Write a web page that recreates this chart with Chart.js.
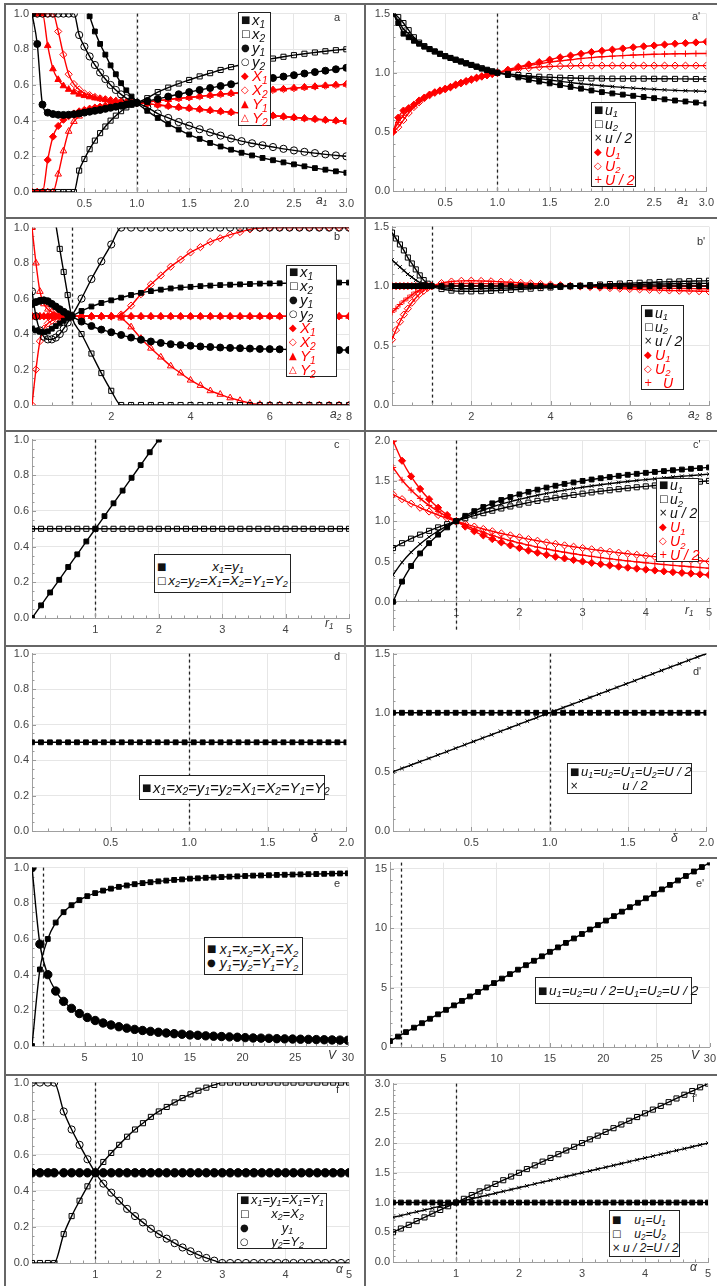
<!DOCTYPE html>
<html lang="en">
<head>
<meta charset="UTF-8">
<title>Panels a - f'</title>
<script src="https://cdn.jsdelivr.net/npm/chart.js@4.4.0/dist/chart.umd.min.js"></script>
<style>
  body { margin: 0; background: #fff; }
  #page { position: relative; width: 717px; height: 1286px; overflow: hidden; font-family: 'Liberation Sans', Arial, sans-serif; }
  canvas { position: absolute; z-index: 1; }
  .hl { position: absolute; left: 4px; right: 0; height: 2px; background: #666; }
  .vl { position: absolute; top: 3px; bottom: 0; width: 2px; background: #666; }
  .tag { position: absolute; z-index: 3; font-size: 11px; color: #333; }
  .ax { position: absolute; z-index: 3; font-size: 12px; font-style: italic; color: #333; }
  .lg { position: absolute; z-index: 4; box-sizing: border-box; border: 1.5px solid #222; background: #fff; padding: 0 2px;
        display: flex; flex-direction: column; justify-content: center; font-style: italic; color: #111; }
  .lg div { display: flex; align-items: center; white-space: nowrap; line-height: 14px; height: 14px; }
  .lg .s { font-style: normal; font-family: 'DejaVu Sans', sans-serif; font-size: 10px; width: 11px; flex: none; }
  .lg .t { flex: none; }
  .lg .c { flex: 1; text-align: center; }
  .lg .red { color: #f00; }
  sub { font-size: 68%; position: relative; top: 0.28em; vertical-align: baseline; line-height: 0; }
</style>
</head>
<body>
<div id="page">
  <!-- table frame -->
  <div class="hl" style="top:3px"></div>
  <div class="hl" style="top:217px"></div>
  <div class="hl" style="top:430px"></div>
  <div class="hl" style="top:645px"></div>
  <div class="hl" style="top:857px"></div>
  <div class="hl" style="top:1074px"></div>
  <div class="vl" style="left:4px"></div>
  <div class="vl" style="left:364px"></div>

  <!-- panel tags -->
  <div class="tag" style="left:334px;top:11px">a</div>
  <div class="tag" style="left:692px;top:10px">a'</div>
  <div class="tag" style="left:334px;top:230px">b</div>
  <div class="tag" style="left:697px;top:235px">b'</div>
  <div class="tag" style="left:334px;top:438px">c</div>
  <div class="tag" style="left:693px;top:438px">c'</div>
  <div class="tag" style="left:334px;top:650px">d</div>
  <div class="tag" style="left:693px;top:665px">d'</div>
  <div class="tag" style="left:334px;top:877px">e</div>
  <div class="tag" style="left:696px;top:877px">e'</div>
  <div class="tag" style="left:336px;top:1083px">f</div>
  <div class="tag" style="left:692px;top:1092px">f'</div>

  <!-- axis names -->
  <div class="ax" style="left:316px;top:193px">a<sub>1</sub></div>
  <div class="ax" style="left:677px;top:193px">a<sub>1</sub></div>
  <div class="ax" style="left:330px;top:407px">a<sub>2</sub></div>
  <div class="ax" style="left:688px;top:407px">a<sub>2</sub></div>
  <div class="ax" style="left:325px;top:616px">r<sub>1</sub></div>
  <div class="ax" style="left:685px;top:603px">r<sub>1</sub></div>
  <div class="ax" style="left:311px;top:831px">δ</div>
  <div class="ax" style="left:671px;top:831px">δ</div>
  <div class="ax" style="left:328px;top:1048px">V</div>
  <div class="ax" style="left:691px;top:1048px">V</div>
  <div class="ax" style="left:336px;top:1262px">α</div>
  <div class="ax" style="left:690px;top:1260px">α</div>

  <!-- legends -->
  <div class="lg" style="left:238px;top:12px;width:33px;height:114px;font-size:15px">
    <div><span class="s">■</span><span class="t">x<sub>1</sub></span></div>
    <div><span class="s">□</span><span class="t">x<sub>2</sub></span></div>
    <div><span class="s">●</span><span class="t">y<sub>1</sub></span></div>
    <div><span class="s">○</span><span class="t">y<sub>2</sub></span></div>
    <div class="red"><span class="s">◆</span><span class="t">X<sub>1</sub></span></div>
    <div class="red"><span class="s">◇</span><span class="t">X<sub>2</sub></span></div>
    <div class="red"><span class="s">▲</span><span class="t">Y<sub>1</sub></span></div>
    <div class="red"><span class="s">△</span><span class="t">Y<sub>2</sub></span></div>
  </div>
  <div class="lg" style="left:591px;top:102px;width:45px;height:85px;font-size:14px">
    <div><span class="s">■</span><span class="t">u<sub>1</sub></span></div>
    <div><span class="s">□</span><span class="t">u<sub>2</sub></span></div>
    <div><span class="s">×</span><span class="t">u / 2</span></div>
    <div class="red"><span class="s">◆</span><span class="t">U<sub>1</sub></span></div>
    <div class="red"><span class="s">◇</span><span class="t">U<sub>2</sub></span></div>
    <div class="red"><span class="s">+</span><span class="t">U / 2</span></div>
  </div>
  <div class="lg" style="left:286px;top:265px;width:51px;height:112px;font-size:15px">
    <div><span class="s">■</span><span class="t">x<sub>1</sub></span></div>
    <div><span class="s">□</span><span class="t">x<sub>2</sub></span></div>
    <div><span class="s">●</span><span class="t">y<sub>1</sub></span></div>
    <div><span class="s">○</span><span class="t">y<sub>2</sub></span></div>
    <div class="red"><span class="s">◆</span><span class="t">X<sub>1</sub></span></div>
    <div class="red"><span class="s">◇</span><span class="t">X<sub>2</sub></span></div>
    <div class="red"><span class="s">▲</span><span class="t">Y<sub>1</sub></span></div>
    <div class="red"><span class="s">△</span><span class="t">Y<sub>2</sub></span></div>
  </div>
  <div class="lg" style="left:641px;top:305px;width:43px;height:85px;font-size:14px">
    <div><span class="s">■</span><span class="t">u<sub>1</sub></span></div>
    <div><span class="s">□</span><span class="t">u<sub>2</sub></span></div>
    <div><span class="s">×</span><span class="t">u / 2</span></div>
    <div class="red"><span class="s">◆</span><span class="t">U<sub>1</sub></span></div>
    <div class="red"><span class="s">◇</span><span class="t">U<sub>2</sub></span></div>
    <div class="red"><span class="s">+</span><span class="c">U</span></div>
  </div>
  <div class="lg" style="left:154px;top:554px;width:137px;height:39px;font-size:13.5px">
    <div><span class="s">■</span><span class="c">x<sub>1</sub>=y<sub>1</sub></span></div>
    <div><span class="s">□</span><span class="c">x<sub>2</sub>=y<sub>2</sub>=X<sub>1</sub>=X<sub>2</sub>=Y<sub>1</sub>=Y<sub>2</sub></span></div>
  </div>
  <div class="lg" style="left:656px;top:478px;width:43px;height:84px;font-size:14px">
    <div><span class="s">■</span><span class="t">u<sub>1</sub></span></div>
    <div><span class="s">□</span><span class="t">u<sub>2</sub></span></div>
    <div><span class="s">×</span><span class="t">u / 2</span></div>
    <div class="red"><span class="s">◆</span><span class="t">U<sub>1</sub></span></div>
    <div class="red"><span class="s">◇</span><span class="t">U<sub>2</sub></span></div>
    <div class="red"><span class="s">+</span><span class="t">U / 2</span></div>
  </div>
  <div class="lg" style="left:139px;top:775px;width:186px;height:25px;font-size:15px">
    <div><span class="s">■</span><span class="c">x<sub>1</sub>=x<sub>2</sub>=y<sub>1</sub>=y<sub>2</sub>=X<sub>1</sub>=X<sub>2</sub>=Y<sub>1</sub>=Y<sub>2</sub></span></div>
  </div>
  <div class="lg" style="left:567px;top:763px;width:125px;height:31px;font-size:13px">
    <div><span class="s">■</span><span class="c">u<sub>1</sub>=u<sub>2</sub>=U<sub>1</sub>=U<sub>2</sub>=U / 2</span></div>
    <div><span class="s">×</span><span class="c">u / 2</span></div>
  </div>
  <div class="lg" style="left:204px;top:937px;width:99px;height:38px;font-size:14px">
    <div><span class="s">■</span><span class="c">x<sub>1</sub>=x<sub>2</sub>=X<sub>1</sub>=X<sub>2</sub></span></div>
    <div><span class="s">●</span><span class="c">y<sub>1</sub>=y<sub>2</sub>=Y<sub>1</sub>=Y<sub>2</sub></span></div>
  </div>
  <div class="lg" style="left:535px;top:977px;width:157px;height:27px;font-size:13.5px">
    <div><span class="s">■</span><span class="c">u<sub>1</sub>=u<sub>2</sub>=u / 2=U<sub>1</sub>=U<sub>2</sub>=U / 2</span></div>
  </div>
  <div class="lg" style="left:237px;top:1193px;width:90px;height:56px;font-size:13px">
    <div><span class="s">■</span><span class="c">x<sub>1</sub>=y<sub>1</sub>=X<sub>1</sub>=Y<sub>1</sub></span></div>
    <div><span class="s">□</span><span class="c">x<sub>2</sub>=X<sub>2</sub></span></div>
    <div><span class="s">●</span><span class="c">y<sub>1</sub></span></div>
    <div><span class="s">○</span><span class="c">y<sub>2</sub>=Y<sub>2</sub></span></div>
  </div>
  <div class="lg" style="left:609px;top:1210px;width:71px;height:47px;font-size:12px">
    <div><span class="s">■</span><span class="c">u<sub>1</sub>=U<sub>1</sub></span></div>
    <div><span class="s">□</span><span class="c">u<sub>2</sub>=U<sub>2</sub></span></div>
    <div><span class="s">×</span><span class="c">u / 2=U / 2</span></div>
  </div>
</div>

<script>
// ---- panel a / a' (a1) ----
const A_X  = [0,0.05,0.1,0.15,0.2,0.25,0.3,0.35,0.4,0.45,0.5,0.55,0.6,0.65,0.7,0.75,0.8,0.85,0.9,0.95,1,1.1,1.2,1.3,1.4,1.5,1.6,1.7,1.8,1.9,2,2.1,2.2,2.3,2.4,2.5,2.6,2.7,2.8,2.9,3];
const A_x1 = [null,null,null,null,null,null,null,null,null,1.15,1.07,0.985,0.9,0.83,0.77,0.71,0.66,0.61,0.57,0.535,0.5,0.455,0.415,0.38,0.35,0.322,0.298,0.275,0.255,0.237,0.22,0.205,0.191,0.178,0.166,0.155,0.144,0.134,0.125,0.116,0.108];
const A_x2 = [0,0,0,0,0,0,0,0,0,0.12,0.185,0.24,0.288,0.33,0.367,0.4,0.428,0.453,0.474,0.489,0.5,0.526,0.56,0.585,0.608,0.628,0.648,0.666,0.684,0.7,0.715,0.727,0.738,0.748,0.758,0.767,0.775,0.782,0.789,0.795,0.8];
const A_y1 = [1,0.83,0.49,0.445,0.437,0.433,0.432,0.433,0.436,0.44,0.445,0.45,0.455,0.46,0.466,0.472,0.478,0.484,0.49,0.495,0.5,0.51,0.522,0.535,0.548,0.56,0.572,0.583,0.594,0.604,0.613,0.622,0.631,0.639,0.647,0.655,0.664,0.672,0.68,0.688,0.696];
const A_y2 = [1,1,1,1,1,1,1,1,1,0.88,0.815,0.76,0.712,0.67,0.633,0.6,0.572,0.547,0.526,0.511,0.5,0.474,0.44,0.415,0.392,0.372,0.352,0.334,0.316,0.3,0.285,0.273,0.262,0.252,0.242,0.233,0.225,0.218,0.211,0.205,0.2];
const A_X1 = [0,0,0,0.18,0.31,0.37,0.405,0.425,0.44,0.452,0.46,0.467,0.473,0.478,0.483,0.487,0.49,0.493,0.496,0.498,0.5,0.495,0.488,0.482,0.475,0.47,0.464,0.458,0.452,0.447,0.443,0.438,0.433,0.428,0.423,0.418,0.413,0.409,0.404,0.4,0.396];
const A_X2 = [1,1,1,1,1,0.9,0.77,0.66,0.605,0.575,0.553,0.543,0.533,0.525,0.52,0.515,0.511,0.508,0.505,0.502,0.5,0.505,0.512,0.518,0.525,0.53,0.536,0.542,0.548,0.553,0.557,0.562,0.567,0.572,0.577,0.582,0.587,0.591,0.596,0.6,0.604];
const A_Y1 = [1,1,1,0.82,0.69,0.63,0.595,0.575,0.56,0.548,0.54,0.533,0.527,0.522,0.517,0.513,0.51,0.507,0.504,0.502,0.5,0.505,0.512,0.518,0.525,0.53,0.536,0.542,0.548,0.553,0.557,0.562,0.567,0.572,0.577,0.582,0.587,0.591,0.596,0.6,0.604];
const A_Y2 = [0,0,0,0,0,0.1,0.23,0.34,0.395,0.425,0.447,0.457,0.467,0.475,0.48,0.485,0.489,0.492,0.495,0.498,0.5,0.495,0.488,0.482,0.475,0.47,0.464,0.458,0.452,0.447,0.443,0.438,0.433,0.428,0.423,0.418,0.413,0.409,0.404,0.4,0.396];
const AP_u1 = [1.5,1.42,1.33,1.3,1.27,1.245,1.22,1.2,1.18,1.16,1.14,1.125,1.11,1.095,1.08,1.065,1.05,1.035,1.022,1.01,1,0.98,0.96,0.94,0.925,0.91,0.895,0.88,0.865,0.85,0.836,0.825,0.815,0.805,0.795,0.785,0.775,0.765,0.757,0.748,0.74];
const AP_u2 = [1.5,1.47,1.42,1.36,1.3,1.255,1.225,1.2,1.18,1.16,1.14,1.125,1.11,1.095,1.08,1.066,1.052,1.038,1.025,1.012,1,0.99,0.98,0.972,0.966,0.962,0.958,0.955,0.953,0.952,0.951,0.95,0.95,0.95,0.95,0.949,0.949,0.948,0.948,0.947,0.947];
const AP_uh = [1.5,1.44,1.37,1.33,1.29,1.25,1.222,1.2,1.18,1.16,1.14,1.125,1.11,1.095,1.08,1.065,1.051,1.037,1.023,1.011,1,0.988,0.975,0.962,0.95,0.938,0.927,0.917,0.907,0.898,0.89,0.883,0.876,0.87,0.864,0.86,0.855,0.851,0.848,0.845,0.842];
const AP_U1 = [0.5,0.62,0.68,0.7,0.73,0.765,0.79,0.815,0.835,0.85,0.865,0.88,0.9,0.915,0.93,0.945,0.958,0.97,0.98,0.99,1,1.025,1.05,1.07,1.09,1.11,1.13,1.145,1.16,1.175,1.185,1.195,1.205,1.215,1.223,1.23,1.238,1.245,1.25,1.256,1.262];
const AP_U2 = [0.5,0.54,0.6,0.66,0.71,0.75,0.785,0.81,0.83,0.846,0.86,0.876,0.895,0.91,0.925,0.94,0.954,0.967,0.978,0.99,1,1.015,1.03,1.04,1.048,1.053,1.056,1.058,1.06,1.06,1.06,1.06,1.06,1.06,1.06,1.06,1.06,1.06,1.06,1.06,1.06];
const AP_Uh = [0.5,0.58,0.64,0.68,0.72,0.758,0.788,0.812,0.832,0.848,0.862,0.878,0.897,0.912,0.927,0.942,0.956,0.968,0.979,0.99,1,1.02,1.04,1.06,1.075,1.09,1.1,1.11,1.12,1.128,1.135,1.14,1.145,1.15,1.153,1.156,1.158,1.16,1.161,1.162,1.163];

// ---- panel b / b' (a2) ----
const B_X  = [0,0.1,0.2,0.3,0.4,0.5,0.6,0.7,0.8,0.9,1,1.25,1.5,1.75,2,2.25,2.5,2.75,3,3.25,3.5,3.75,4,4.25,4.5,4.75,5,5.25,5.5,5.75,6,6.25,6.5,6.75,7,7.25,7.5,7.75,8];
const B_x1 = [0.43,0.42,0.413,0.41,0.415,0.43,0.445,0.46,0.475,0.488,0.5,0.53,0.555,0.575,0.59,0.605,0.62,0.632,0.642,0.65,0.657,0.662,0.666,0.67,0.673,0.676,0.678,0.68,0.682,0.684,0.685,0.686,0.687,0.688,0.688,0.689,0.689,0.69,0.69];
const B_y1 = [0.57,0.58,0.587,0.59,0.585,0.57,0.555,0.54,0.525,0.512,0.5,0.47,0.445,0.425,0.41,0.395,0.38,0.368,0.358,0.35,0.343,0.338,0.334,0.33,0.327,0.324,0.322,0.32,0.318,0.316,0.315,0.314,0.313,0.312,0.312,0.311,0.311,0.31,0.31];
const B_x2 = [null,null,null,null,null,null,1.02,0.88,0.75,0.62,0.5,0.4,0.29,0.18,0.08,0,0,0,0,0,0,0,0,0,0,0,0,0,0,0,0,0,0,0,0,0,0,0,0];
const B_y2 = [0.64,0.5,0.42,0.385,0.37,0.37,0.38,0.4,0.43,0.465,0.5,0.6,0.71,0.81,0.905,1,1,1,1,1,1,1,1,1,1,1,1,1,1,1,1,1,1,1,1,1,1,1,1];
const B_X2 = [0,0.2,0.36,0.43,0.46,0.475,0.485,0.492,0.496,0.499,0.5,0.5,0.5,0.5,0.5,0.51,0.56,0.625,0.68,0.73,0.78,0.82,0.86,0.89,0.92,0.94,0.96,0.975,0.99,0.997,1,1,1,1,1,1,1,1,1];
const B_Y2 = [1,0.8,0.64,0.57,0.54,0.525,0.515,0.508,0.504,0.501,0.5,0.5,0.5,0.5,0.5,0.49,0.44,0.375,0.32,0.27,0.22,0.18,0.14,0.11,0.08,0.06,0.04,0.025,0.01,0.003,0,0,0,0,0,0,0,0,0];
const HALF39 = [0.5,0.5,0.5,0.5,0.5,0.5,0.5,0.5,0.5,0.5,0.5,0.5,0.5,0.5,0.5,0.5,0.5,0.5,0.5,0.5,0.5,0.5,0.5,0.5,0.5,0.5,0.5,0.5,0.5,0.5,0.5,0.5,0.5,0.5,0.5,0.5,0.5,0.5,0.5];
const ONE39 = [1,1,1,1,1,1,1,1,1,1,1,1,1,1,1,1,1,1,1,1,1,1,1,1,1,1,1,1,1,1,1,1,1,1,1,1,1,1,1];
const BP_u2 = [1.45,1.4,1.35,1.3,1.24,1.19,1.14,1.09,1.05,1.02,1,0.975,0.962,0.956,0.955,0.957,0.96,0.964,0.968,0.973,0.978,0.983,0.988,0.993,0.998,1.003,1.008,1.013,1.017,1.021,1.025,1.028,1.031,1.034,1.037,1.039,1.041,1.043,1.045];
const BP_uh = [1.22,1.19,1.16,1.13,1.1,1.075,1.05,1.03,1.015,1.005,1,0.988,0.981,0.978,0.978,0.979,0.98,0.982,0.984,0.987,0.989,0.992,0.994,0.997,0.999,1.002,1.004,1.007,1.009,1.011,1.013,1.014,1.016,1.017,1.019,1.02,1.021,1.022,1.023];
const BP_U2 = [0.55,0.63,0.7,0.76,0.81,0.86,0.9,0.935,0.96,0.985,1,1.025,1.038,1.044,1.045,1.043,1.04,1.036,1.032,1.027,1.022,1.017,1.012,1.007,1.002,0.997,0.992,0.987,0.983,0.979,0.975,0.972,0.969,0.966,0.963,0.961,0.959,0.957,0.955];
const BP_U  = [0.78,0.81,0.845,0.875,0.9,0.925,0.95,0.965,0.98,0.99,1,1.012,1.019,1.022,1.022,1.021,1.02,1.018,1.016,1.013,1.011,1.008,1.006,1.003,1.001,0.998,0.996,0.993,0.991,0.989,0.987,0.986,0.984,0.983,0.981,0.98,0.979,0.978,0.977];

// ---- panel c / c' (r1) ----
const C_X = [0,0.143,0.286,0.429,0.571,0.714,0.857,1,1.143,1.286,1.429,1.571,1.714,1.857,2,2.143,2.286,2.429,2.571,2.714,2.857,3,3.143,3.286,3.429,3.571,3.714,3.857,4,4.143,4.286,4.429,4.571,4.714,4.857,5];
const C_x1y1 = [0,0.071,0.143,0.214,0.286,0.357,0.429,0.5,0.571,0.643,0.714,0.786,0.857,0.929,1,null,null,null,null,null,null,null,null,null,null,null,null,null,null,null,null,null,null,null,null,null];
const HALF36 = [0.5,0.5,0.5,0.5,0.5,0.5,0.5,0.5,0.5,0.5,0.5,0.5,0.5,0.5,0.5,0.5,0.5,0.5,0.5,0.5,0.5,0.5,0.5,0.5,0.5,0.5,0.5,0.5,0.5,0.5,0.5,0.5,0.5,0.5,0.5,0.5];
const ONE36 = [1,1,1,1,1,1,1,1,1,1,1,1,1,1,1,1,1,1,1,1,1,1,1,1,1,1,1,1,1,1,1,1,1,1,1,1];
const CP_u1 = [0,0.25,0.444,0.6,0.727,0.833,0.923,1,1.067,1.125,1.176,1.222,1.263,1.3,1.333,1.364,1.391,1.417,1.44,1.462,1.481,1.5,1.517,1.533,1.548,1.563,1.576,1.588,1.6,1.611,1.622,1.632,1.641,1.65,1.659,1.667];
const CP_u2 = [0.667,0.727,0.783,0.833,0.88,0.923,0.963,1,1.036,1.07,1.1,1.13,1.158,1.183,1.207,1.23,1.252,1.272,1.291,1.309,1.326,1.342,1.357,1.371,1.384,1.397,1.409,1.421,1.432,1.443,1.453,1.463,1.473,1.482,1.491,1.5];
const CP_uh = [0.333,0.489,0.614,0.717,0.804,0.878,0.943,1,1.052,1.098,1.138,1.176,1.211,1.242,1.27,1.297,1.322,1.345,1.366,1.386,1.404,1.421,1.437,1.452,1.466,1.48,1.493,1.505,1.516,1.527,1.538,1.548,1.557,1.566,1.575,1.584];
const CP_U1 = [2,1.75,1.556,1.4,1.273,1.167,1.077,1,0.933,0.875,0.824,0.778,0.737,0.7,0.667,0.636,0.609,0.583,0.56,0.538,0.519,0.5,0.483,0.467,0.452,0.437,0.424,0.412,0.4,0.389,0.378,0.368,0.359,0.35,0.341,0.333];
const CP_U2 = [1.333,1.273,1.217,1.167,1.12,1.077,1.037,1,0.966,0.933,0.903,0.875,0.848,0.824,0.8,0.778,0.757,0.737,0.718,0.7,0.683,0.667,0.651,0.636,0.622,0.609,0.596,0.583,0.571,0.56,0.549,0.538,0.528,0.519,0.509,0.5];
const CP_Uh = [1.667,1.511,1.386,1.283,1.196,1.122,1.057,1,0.948,0.902,0.862,0.824,0.789,0.758,0.73,0.703,0.678,0.655,0.634,0.614,0.596,0.579,0.563,0.548,0.534,0.52,0.507,0.495,0.484,0.473,0.462,0.452,0.443,0.434,0.425,0.416];

// ---- panel d / d' (delta) ----
const D_X = [0,0.057,0.114,0.171,0.229,0.286,0.343,0.4,0.457,0.514,0.571,0.629,0.686,0.743,0.8,0.857,0.914,0.971,1.029,1.086,1.143,1.2,1.257,1.314,1.371,1.429,1.486,1.543,1.6,1.657,1.714,1.771,1.829,1.886,1.943,2];
const DP_uh = [0.5,0.529,0.557,0.586,0.614,0.643,0.671,0.7,0.729,0.757,0.786,0.814,0.843,0.871,0.9,0.929,0.957,0.986,1.014,1.043,1.071,1.1,1.129,1.157,1.186,1.214,1.243,1.271,1.3,1.329,1.357,1.386,1.414,1.443,1.471,1.5];

// ---- panel e / e' (V) ----
const E_X = [0,0.75,1.5,2.25,3,3.75,4.5,5.25,6,6.75,7.5,8.25,9,9.75,10.5,11.25,12,12.75,13.5,14.25,15,15.75,16.5,17.25,18,18.75,19.5,20.25,21,21.75,22.5,23.25,24,24.75,25.5,26.25,27,27.75,28.5,29.25,30];
const E_x = [0,0.429,0.6,0.692,0.75,0.789,0.818,0.84,0.857,0.871,0.882,0.892,0.9,0.907,0.913,0.918,0.923,0.927,0.931,0.934,0.938,0.94,0.943,0.945,0.947,0.949,0.951,0.953,0.955,0.956,0.957,0.959,0.96,0.961,0.962,0.963,0.964,0.965,0.966,0.967,0.968];
const E_y = [1,0.571,0.4,0.308,0.25,0.211,0.182,0.16,0.143,0.129,0.118,0.108,0.1,0.093,0.087,0.082,0.077,0.073,0.069,0.066,0.062,0.06,0.057,0.055,0.053,0.051,0.049,0.047,0.045,0.044,0.043,0.041,0.04,0.039,0.038,0.037,0.036,0.035,0.034,0.033,0.032];
const EP_u = [0.5,0.875,1.25,1.625,2,2.375,2.75,3.125,3.5,3.875,4.25,4.625,5,5.375,5.75,6.125,6.5,6.875,7.25,7.625,8,8.375,8.75,9.125,9.5,9.875,10.25,10.625,11,11.375,11.75,12.125,12.5,12.875,13.25,13.625,14,14.375,14.75,15.125,15.5];

// ---- panel f / f' (alpha) ----
const F_X = [0,0.125,0.25,0.35,0.5,0.625,0.75,0.875,1,1.125,1.25,1.375,1.5,1.625,1.75,1.875,2,2.125,2.25,2.375,2.5,2.625,2.75,2.875,3,3.125,3.25,3.375,3.5,3.625,3.75,3.875,4,4.125,4.25,4.375,4.5,4.625,4.75,4.875,5];
const F_x2 = [0,0,0,0,0.16,0.26,0.345,0.425,0.5,0.56,0.61,0.655,0.7,0.74,0.775,0.81,0.84,0.865,0.89,0.914,0.935,0.955,0.972,0.987,1,1,1,1,1,1,1,1,1,1,1,1,1,1,1,1,1];
const F_y2 = [1,1,1,1,0.84,0.74,0.655,0.575,0.5,0.44,0.39,0.345,0.3,0.26,0.225,0.19,0.16,0.135,0.11,0.086,0.065,0.045,0.028,0.013,0,0,0,0,0,0,0,0,0,0,0,0,0,0,0,0,0];
const HALF41 = [0.5,0.5,0.5,0.5,0.5,0.5,0.5,0.5,0.5,0.5,0.5,0.5,0.5,0.5,0.5,0.5,0.5,0.5,0.5,0.5,0.5,0.5,0.5,0.5,0.5,0.5,0.5,0.5,0.5,0.5,0.5,0.5,0.5,0.5,0.5,0.5,0.5,0.5,0.5,0.5,0.5];
const FP_X = [0,0.125,0.25,0.375,0.5,0.625,0.75,0.875,1,1.125,1.25,1.375,1.5,1.625,1.75,1.875,2,2.125,2.25,2.375,2.5,2.625,2.75,2.875,3,3.125,3.25,3.375,3.5,3.625,3.75,3.875,4,4.125,4.25,4.375,4.5,4.625,4.75,4.875,5];
const ONE41 = [1,1,1,1,1,1,1,1,1,1,1,1,1,1,1,1,1,1,1,1,1,1,1,1,1,1,1,1,1,1,1,1,1,1,1,1,1,1,1,1,1];
const FP_u2 = [0.5,0.5625,0.625,0.6875,0.75,0.8125,0.875,0.9375,1,1.0625,1.125,1.1875,1.25,1.3125,1.375,1.4375,1.5,1.5625,1.625,1.6875,1.75,1.8125,1.875,1.9375,2,2.0625,2.125,2.1875,2.25,2.3125,2.375,2.4375,2.5,2.5625,2.625,2.6875,2.75,2.8125,2.875,2.9375,3];
const FP_uh = [0.75,0.781,0.813,0.844,0.875,0.906,0.938,0.969,1,1.031,1.063,1.094,1.125,1.156,1.188,1.219,1.25,1.281,1.313,1.344,1.375,1.406,1.438,1.469,1.5,1.531,1.563,1.594,1.625,1.656,1.688,1.719,1.75,1.781,1.813,1.844,1.875,1.906,1.938,1.969,2];

const K = '#000', RD = '#ff0000';
const REF_X = 1;

// marker looks
const MK = {
  fsq: { ps: 'rect', r: 3.4, fill: true },
  osq: { ps: 'rect', r: 3.6, fill: false },
  fci: { ps: 'circle', r: 3.5, fill: true },
  bci: { ps: 'circle', r: 4.2, fill: true },
  oci: { ps: 'circle', r: 3.6, fill: false },
  fdi: { ps: 'rectRot', r: 3.6, fill: true },
  odi: { ps: 'rectRot', r: 3.6, fill: false },
  ftr: { ps: 'triangle', r: 3.8, fill: true },
  otr: { ps: 'triangle', r: 3.8, fill: false },
  crs: { ps: 'crossRot', r: 2.6, fill: false },
  pls: { ps: 'cross', r: 3.2, fill: false }
};

// plot box [left, top, right, bottom], axis [min, max, step, minor, decimals]
const PANELS = [
  { plot: [32, 12, 349, 192], x: [0, 3, 0.5, 0.1, 1], y: [0, 1, 0.2, 0.05, 1], sets: [
    [A_X, A_x1, 'fsq', K], [A_X, A_x2, 'osq', K], [A_X, A_y1, 'fci', K], [A_X, A_y2, 'oci', K],
    [A_X, A_X1, 'fdi', RD], [A_X, A_X2, 'odi', RD], [A_X, A_Y1, 'ftr', RD], [A_X, A_Y2, 'otr', RD]] },
  { plot: [393, 12, 709, 191], x: [0, 3, 0.5, 0.1, 1], y: [0, 1.5, 0.5, 0.1, 1], sets: [
    [A_X, AP_u1, 'fsq', K], [A_X, AP_u2, 'osq', K], [A_X, AP_uh, 'crs', K],
    [A_X, AP_U1, 'fdi', RD], [A_X, AP_U2, 'odi', RD], [A_X, AP_Uh, 'pls', RD]] },
  { plot: [32, 226, 349, 405], x: [0, 8, 2, 0.5, 0], y: [0, 1, 0.2, 0.05, 1], sets: [
    [B_X, B_x1, 'fsq', K], [B_X, B_x2, 'osq', K], [B_X, B_y1, 'fci', K], [B_X, B_y2, 'oci', K],
    [B_X, HALF39, 'fdi', RD], [B_X, B_X2, 'odi', RD], [B_X, HALF39, 'ftr', RD], [B_X, B_Y2, 'otr', RD]] },
  { plot: [392, 225, 709, 405], x: [0, 8, 2, 0.5, 0], y: [0, 1.5, 0.5, 0.1, 1], sets: [
    [B_X, ONE39, 'fsq', K], [B_X, BP_u2, 'osq', K], [B_X, BP_uh, 'crs', K],
    [B_X, ONE39, 'fdi', RD], [B_X, BP_U2, 'odi', RD], [B_X, BP_U, 'pls', RD]] },
  { plot: [32, 438, 349, 618], x: [0, 5, 1, 0.2, 0], y: [0, 1, 0.2, 0.05, 1], sets: [
    [C_X, C_x1y1, 'fsq', K], [C_X, HALF36, 'osq', K]] },
  { plot: [393, 439, 709, 630], x: [0, 5, 1, 0.2, 0], y: [-0.35, 2, 0.5, 0.1, 1], zeroAxis: true, sets: [
    [C_X, CP_u1, 'fsq', K], [C_X, CP_u2, 'osq', K], [C_X, CP_uh, 'crs', K],
    [C_X, CP_U1, 'fdi', RD], [C_X, CP_U2, 'odi', RD], [C_X, CP_Uh, 'pls', RD]] },
  { plot: [32, 652, 349, 831], x: [0, 2, 0.5, 0.1, 1], y: [0, 1, 0.2, 0.05, 1], sets: [
    [D_X, HALF36, 'fsq', K]] },
  { plot: [393, 652, 709, 831], x: [0, 2, 0.5, 0.1, 1], y: [0, 1.5, 0.5, 0.1, 1], sets: [
    [D_X, ONE36, 'fsq', K], [D_X, DP_uh, 'crs', K]] },
  { plot: [32, 866, 349, 1046], x: [0, 30, 5, 1, 0], y: [0, 1, 0.2, 0.05, 1], sets: [
    [E_X, E_x, 'fsq', K], [E_X, E_y, 'bci', K]] },
  { plot: [390, 861, 711, 1047], x: [0, 30, 5, 1, 0], y: [0, 15.5, 5, 1, 0], sets: [
    [E_X, EP_u, 'fsq', K]] },
  { plot: [32, 1081, 349, 1263], x: [0, 5, 1, 0.2, 0], y: [0, 1, 0.2, 0.05, 1], sets: [
    [F_X, HALF41, 'fsq', K], [F_X, F_x2, 'osq', K], [F_X, HALF41, 'bci', K], [F_X, F_y2, 'oci', K]] },
  { plot: [393, 1082, 708, 1262], x: [0, 5, 1, 0.2, 0], y: [0, 3, 0.5, 0.1, 1], sets: [
    [FP_X, ONE41, 'fsq', K], [FP_X, FP_u2, 'osq', K], [FP_X, FP_uh, 'crs', K]] }
];

// dashed line at x = 1 and small inward ticks on both axes
const decor = {
  id: 'decor',
  beforeDatasetsDraw(chart, args, o) {
    const { ctx, chartArea: ca, scales: { x, y } } = chart;
    ctx.save();
    const px = Math.round(x.getPixelForValue(REF_X)) + 0.5;
    ctx.strokeStyle = '#222';
    ctx.lineWidth = 1.3;
    ctx.setLineDash([3, 3]);
    ctx.beginPath(); ctx.moveTo(px, ca.top); ctx.lineTo(px, ca.bottom); ctx.stroke();
    ctx.setLineDash([]);

    const axY = o.zeroAxis ? Math.round(y.getPixelForValue(0)) : ca.bottom;
    ctx.strokeStyle = '#999';
    ctx.lineWidth = 1;
    ctx.beginPath();
    const nx = Math.round((x.max - x.min) / o.xMinor);
    for (let i = 1; i <= nx; i++) {
      const v = x.min + i * o.xMinor;
      const major = Math.abs(v / o.xStep - Math.round(v / o.xStep)) < 1e-6;
      const p = Math.round(x.getPixelForValue(v)) + 0.5;
      ctx.moveTo(p, axY); ctx.lineTo(p, axY - (major ? 4 : 2.5));
    }
    const y0 = Math.ceil(y.min / o.yMinor - 1e-9);
    const y1 = Math.floor(y.max / o.yMinor + 1e-9);
    for (let k = y0; k <= y1; k++) {
      const v = k * o.yMinor;
      const major = Math.abs(v / o.yStep - Math.round(v / o.yStep)) < 1e-6;
      const p = Math.round(y.getPixelForValue(v)) + 0.5;
      ctx.moveTo(ca.left, p); ctx.lineTo(ca.left + (major ? 4 : 2.5), p);
    }
    ctx.stroke();
    ctx.restore();
  }
};

const page = document.getElementById('page');
const tickFont = { size: 11, family: "'Liberation Sans', Arial, sans-serif" };

PANELS.forEach(p => {
  const [L, T, R, B] = p.plot;
  const W = R - L + 44, H = B - T + 32;
  const cv = document.createElement('canvas');
  cv.width = W; cv.height = H;
  cv.style.left = (L - 34) + 'px';
  cv.style.top = (T - 8) + 'px';
  cv.style.width = W + 'px';
  cv.style.height = H + 'px';
  page.appendChild(cv);

  const datasets = p.sets.map(([xs, ys, mk, col]) => {
    const m = MK[mk];
    return {
      data: xs.map((x, i) => ({ x: x, y: ys[i] })),
      showLine: true,
      borderColor: col,
      borderWidth: 1.4,
      cubicInterpolationMode: 'monotone',
      pointStyle: m.ps,
      pointRadius: m.r,
      pointHoverRadius: m.r,
      pointBorderWidth: 1,
      pointBorderColor: col,
      pointBackgroundColor: m.fill ? col : 'rgba(255,255,255,0)'
    };
  });

  new Chart(cv, {
    type: 'scatter',
    data: { datasets },
    plugins: [decor],
    options: {
      responsive: false,
      animation: false,
      devicePixelRatio: 1,
      events: [],
      layout: { padding: { left: 0, top: 8, right: 10, bottom: p.zeroAxis ? 24 : 0 } },
      plugins: {
        legend: { display: false },
        tooltip: { enabled: false },
        decor: { zeroAxis: !!p.zeroAxis, xStep: p.x[2], xMinor: p.x[3], yStep: p.y[2], yMinor: p.y[3] }
      },
      scales: {
        x: {
          type: 'linear', min: p.x[0], max: p.x[1],
          position: p.zeroAxis ? { y: 0 } : 'bottom',
          afterFit: s => { s.height = 24; },
          grid: { color: '#e6e6e6', drawTicks: false },
          border: { color: '#a0a0a0' },
          ticks: { stepSize: p.x[2], includeBounds: false, autoSkip: false, maxRotation: 0, padding: 5,
                   font: tickFont, color: '#444',
                   callback: v => Math.abs(v) < 1e-9 ? '' : v.toFixed(p.x[4]) }
        },
        y: {
          type: 'linear', min: p.y[0], max: p.y[1],
          afterFit: s => { s.width = 34; },
          grid: { color: '#e6e6e6', drawTicks: false },
          border: { color: '#a0a0a0' },
          ticks: { stepSize: p.y[2], includeBounds: false, autoSkip: false, padding: 3,
                   font: tickFont, color: '#444',
                   callback: v => v.toFixed(p.y[4]) }
        }
      }
    }
  });
});
</script>
</body>
</html>
